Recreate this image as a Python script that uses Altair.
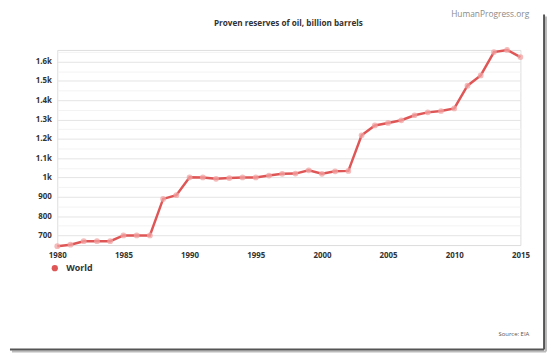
import altair as alt
import pandas as pd

years = list(range(1980, 2016))
reserves = [644, 652, 670, 670, 670, 700, 700, 700, 889, 908,
            1001, 1000, 993, 997, 1000, 1000, 1010, 1019, 1020, 1037,
            1019, 1032, 1034, 1218, 1269, 1282, 1296, 1322, 1337, 1344,
            1357, 1475, 1528, 1649, 1660, 1623]
series = ["World"] * len(years)

title_text = "Proven reserves of oil, billion barrels"
credit_text = "HumanProgress.org"
source_text = "Source: EIA"

df = pd.DataFrame({"year": years, "value": reserves, "series": series})
one = pd.DataFrame({"k": [0]})

FONT = "Open Sans"
RED = "#df5656"
PINK = "#f2a3a3"

x = alt.X("year:Q", scale=alt.Scale(domain=[1980, 2015], nice=False, zero=False),
          axis=alt.Axis(title=None, values=list(range(1980, 2016, 5)), format="d",
                        grid=False, ticks=False, domainColor="#dcdcdc", labelFlush=False,
                        labelFont=FONT, labelFontWeight="bold", labelFontSize=8,
                        labelColor="#333333", labelPadding=7))
y = alt.Y("value:Q", scale=alt.Scale(domain=[650, 1660], nice=False, zero=False),
          axis=alt.Axis(title=None, values=list(range(650, 1660, 50)),
                        labelExpr="datum.value % 100 != 0 ? '' : (datum.value >= 1000 ? (datum.value/1000) + 'k' : datum.value + '')",
                        domain=False, ticks=False,
                        gridColor={"condition": {"test": "datum.value % 100 == 0", "value": "#e4e4e4"}, "value": "#f3f3f3"},
                        labelFont=FONT, labelFontWeight="bold", labelFontSize=8,
                        labelColor="#333333", labelPadding=6))

line = alt.Chart(df).mark_line(strokeWidth=2.5, color=RED, clip=False).encode(x=x, y=y)
pts = alt.Chart(df).mark_circle(size=34, color=PINK, opacity=0.75, clip=False).encode(x=x, y=y)
legend_layer = alt.Chart(df).mark_circle(opacity=0, clip=False).encode(
    x=x, y=y,
    color=alt.Color("series:N", scale=alt.Scale(domain=["World"], range=[RED]),
                    legend=alt.Legend(title=None, orient="none", legendX=-7, legendY=217, padding=0,
                                      symbolType="circle", symbolSize=40, symbolStrokeWidth=0,
                                      symbolOpacity=1,
                                      labelFont=FONT, labelFontWeight="bold", labelFontSize=9,
                                      labelColor="#333333", labelOffset=7)),
)

ttl = alt.Chart(one).mark_text(text=title_text, align="center", baseline="middle",
                               font=FONT, fontSize=8.3, fontWeight="bold", color="#333333").encode(
    x=alt.value(234.5), y=alt.value(-26.3))
hp = alt.Chart(one).mark_text(text=credit_text, align="right", baseline="top",
                              font=FONT, fontSize=8.5, color="#8a8a8a").encode(
    x=alt.value(479), y=alt.value(-40))
src = alt.Chart(one).mark_text(text=source_text, align="right", baseline="middle",
                               font=FONT, fontSize=6, color="#555555").encode(
    x=alt.value(479), y=alt.value(288))
frame_r = alt.Chart(one).mark_rule(color="#555555", strokeWidth=2).encode(
    x=alt.value(494), y=alt.value(-36), y2=alt.value(304))
frame_b = alt.Chart(one).mark_rule(color="#555555", strokeWidth=2).encode(
    x=alt.value(-48), x2=alt.value(494), y=alt.value(304))
shadow_r = alt.Chart(one).mark_rule(color="#bbbbbb", strokeWidth=2).encode(
    x=alt.value(496), y=alt.value(-34), y2=alt.value(306))
shadow_b = alt.Chart(one).mark_rule(color="#bbbbbb", strokeWidth=2).encode(
    x=alt.value(-46), x2=alt.value(496), y=alt.value(306))

chart = alt.layer(line, pts, legend_layer, ttl, hp, src, shadow_r, shadow_b, frame_r, frame_b).properties(
    width=470, height=198,
    autosize=alt.AutoSizeParams(type="none"),
    padding={"left": 50, "top": 40, "right": 28, "bottom": 110},
).configure_view(stroke=None).configure(background="white")

chart.save("out.html", embed_options={"renderer": "svg", "actions": False})
